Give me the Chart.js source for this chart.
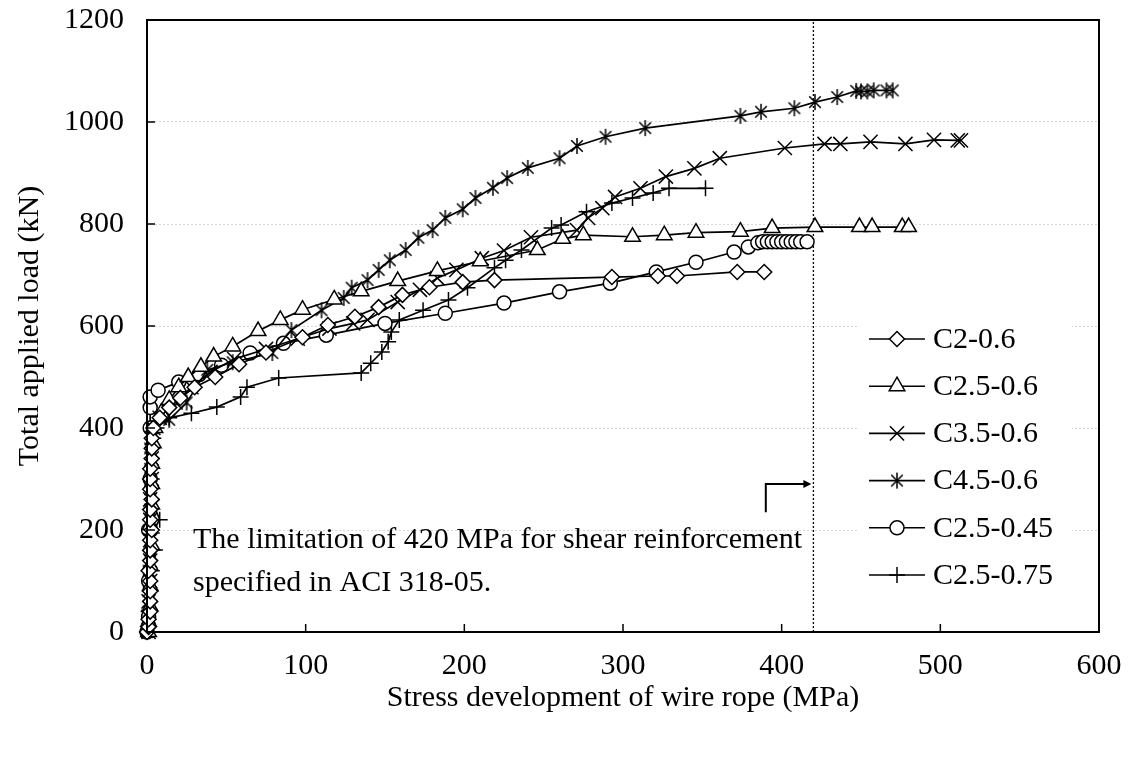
<!DOCTYPE html>
<html>
<head>
<meta charset="utf-8">
<script src="https://cdn.jsdelivr.net/npm/chart.js@4.4.0/dist/chart.umd.min.js"></script>
<style>
  html, body { margin: 0; padding: 0; background: #fff; }
  #wrap { width: 1132px; height: 760px; }
</style>
</head>
<body>
<div id="wrap"><canvas id="chart" width="1132" height="760"></canvas></div>
<script>
// series names, as in the legend
const seriesNames = ['C2-0.6', 'C2.5-0.6', 'C3.5-0.6', 'C4.5-0.6', 'C2.5-0.45', 'C2.5-0.75']

// stress of wire rope (MPa) / total applied load (kN)
const c2_06_x = [0,1,1,2,2,2,2,1,2,2,2,3,2,2,3,2,2,2,3,3,3,4,8,14,21,30,43,58,75,98,114,131,146,161,178,199,219,293,322,334,372,389]
const c2_06_y = [0,10,25,40,60,80,100,120,140,160,180,200,220,240,260,280,300,320,340,360,380,400,420,440,459,480,500,525,548,578,602,618,637,661,676,686,690,696,698,698,706,706]

const c25_06_x = [1,1,2,2,2,3,2,3,3,3,4,5,9,14,20,26,34,42,54,70,84,98,118,135,158,183,210,246,262,275,306,326,346,374,394,421,449,457,476,480]
const c25_06_y = [0,20,50,90,130,170,210,250,290,330,370,400,430,455,480,500,520,540,560,590,612,632,652,668,688,708,727,749,771,778,775,778,783,785,792,794,794,794,794,794]

const c35_06_x = [1,1,1,2,2,2,2,2,3,3,3,4,8,18,28,40,55,75,95,115,130,139,158,172,183,195,211,225,242,271,278,287,295,311,327,345,361,402,427,437,456,478,496,511,513]
const c35_06_y = [0,30,60,100,140,180,220,260,300,340,380,400,420,450,480,510,535,555,575,595,605,612,647,671,694,710,733,748,774,788,812,831,853,870,893,909,929,949,957,957,961,957,965,964,964]

const c45_06_x = [0,1,1,1,2,2,2,2,2,2,3,14,25,38,54,79,91,110,124,129,139,146,153,163,171,180,188,199,207,218,227,240,260,271,289,314,374,387,408,421,435,447,450,454,458,466,470]
const c45_06_y = [0,40,80,120,160,200,240,280,320,360,400,416,450,514,529,547,592,631,655,675,690,710,729,749,773,788,812,829,851,871,890,910,929,953,971,988,1012,1020,1027,1039,1049,1061,1060,1060,1062,1062,1062]

const c25_045_x = [0,1,1,1,2,2,2,2,7,20,33,47,65,86,113,150,188,225,260,292,321,346,370,379,385,388,391,394,397,400,403,406,409,412,416]
const c25_045_y = [0,30,100,200,300,400,440,461,474,490,505,523,547,566,582,605,625,645,667,684,706,725,745,755,763,765,765,765,765,765,765,765,765,765,765]

const c25_075_x = [0,1,2,3,5,3,8,3,3,3,4,6,14,28,44,59,63,83,135,141,148,152,154,159,174,190,202,219,226,236,255,261,277,293,306,319,329,352]
const c25_075_y = [0,40,80,120,161,194,220,260,300,340,380,400,420,429,441,461,480,498,508,527,549,569,588,612,631,651,675,714,729,749,792,798,824,841,851,861,870,870]

// ACI 318-05 limit
const limitStress = 420

const xTicks = [0, 100, 200, 300, 400, 500, 600]
const yTicks = [0, 200, 400, 600, 800, 1000, 1200]

const noteLines = ['The limitation of 420 MPa for shear reinforcement', 'specified in ACI 318-05.']

const FONT = '"Liberation Serif", "Times New Roman", serif'

function asterisk(r) {
    const c = document.createElement('canvas')
    const s = 2 * r + 4
    c.width = s
    c.height = s
    const g = c.getContext('2d')
    const m = s / 2
    const d = r * 0.72
    g.strokeStyle = '#000'
    g.lineWidth = 1.5
    g.beginPath()
    g.moveTo(m, m - r); g.lineTo(m, m + r)
    g.moveTo(m - d, m - d); g.lineTo(m + d, m + d)
    g.moveTo(m + d, m - d); g.lineTo(m - d, m + d)
    g.stroke()
    return c
}

const markers = [
    { style: 'rectRot', r: 7.5 },
    { style: 'triangle', r: 9 },
    { style: 'crossRot', r: 10 },
    { style: asterisk(8), r: 8 },
    { style: 'circle', r: 7 },
    { style: 'cross', r: 8 }
]

function toPoints(xs, ys) {
    return xs.map((x, i) => ({ x: x, y: ys[i] }))
}

const seriesData = [
    toPoints(c2_06_x, c2_06_y),
    toPoints(c25_06_x, c25_06_y),
    toPoints(c35_06_x, c35_06_y),
    toPoints(c45_06_x, c45_06_y),
    toPoints(c25_045_x, c25_045_y),
    toPoints(c25_075_x, c25_075_y)
]

const datasets = seriesNames.map((name, i) => ({
    label: name,
    data: seriesData[i],
    showLine: true,
    borderColor: '#000',
    borderWidth: 1.7,
    pointStyle: markers[i].style,
    pointRadius: markers[i].r,
    pointBackgroundColor: '#fff',
    pointBorderColor: '#000',
    pointBorderWidth: 1.5,
    clip: false,
    tension: 0
}))

datasets.push({
    label: 'limit',
    data: [{ x: limitStress, y: 0 }, { x: limitStress, y: 1200 }],
    showLine: true,
    borderColor: '#000',
    borderWidth: 1.3,
    borderDash: [2, 2],
    pointRadius: 0
})

const extras = {
    id: 'extras',
    afterDraw(chart) {
        const ctx = chart.ctx
        const a = chart.chartArea
        const xs = chart.scales.x
        const ys = chart.scales.y
        ctx.save()

        // inward tick marks
        ctx.strokeStyle = '#000'
        ctx.lineWidth = 1.5
        ctx.beginPath()
        yTicks.forEach(v => {
            const py = ys.getPixelForValue(v)
            ctx.moveTo(a.left, py); ctx.lineTo(a.left + 8, py)
        })
        xTicks.forEach(v => {
            const px = xs.getPixelForValue(v)
            ctx.moveTo(px, a.bottom); ctx.lineTo(px, a.bottom - 8)
        })
        ctx.stroke()

        // frame
        ctx.lineWidth = 2
        ctx.strokeRect(a.left, a.top, a.right - a.left, a.bottom - a.top)

        // note
        ctx.fillStyle = '#000'
        ctx.font = '30px ' + FONT
        ctx.textAlign = 'left'
        ctx.textBaseline = 'alphabetic'
        ctx.fillText(noteLines[0], 193, 548)
        ctx.fillText(noteLines[1], 193, 591)

        // arrow to the limit line
        const ax = xs.getPixelForValue(390)
        const tip = xs.getPixelForValue(limitStress) - 2
        const y0 = ys.getPixelForValue(235)
        const y1 = ys.getPixelForValue(290)
        ctx.lineWidth = 2
        ctx.beginPath()
        ctx.moveTo(ax, y0); ctx.lineTo(ax, y1); ctx.lineTo(tip - 6, y1)
        ctx.stroke()
        ctx.beginPath()
        ctx.moveTo(tip, y1); ctx.lineTo(tip - 8, y1 - 4); ctx.lineTo(tip - 8, y1 + 4)
        ctx.closePath()
        ctx.fill()

        // legend
        ctx.fillStyle = '#fff'
        ctx.fillRect(857, 315, 215, 285)
        ctx.font = '30px ' + FONT
        ctx.textBaseline = 'middle'
        seriesNames.forEach((name, i) => {
            const y = 339 + i * 47.2
            ctx.strokeStyle = '#000'
            ctx.lineWidth = 1.6
            ctx.beginPath()
            ctx.moveTo(869, y); ctx.lineTo(925, y)
            ctx.stroke()
            ctx.fillStyle = '#fff'
            ctx.lineWidth = 1.5
            Chart.helpers.drawPoint(ctx, { pointStyle: markers[i].style, radius: markers[i].r, borderWidth: 1.5, rotation: 0 }, 897, y)
            ctx.fillStyle = '#000'
            ctx.fillText(name, 933, y + 1)
        })
        ctx.restore()
    }
}

new Chart(document.getElementById('chart'), {
    type: 'scatter',
    data: { datasets: datasets },
    options: {
        responsive: false,
        animation: false,
        layout: { padding: { left: 0, top: 20, right: 33, bottom: 0 } },
        plugins: {
            legend: { display: false },
            tooltip: { enabled: false }
        },
        scales: {
            x: {
                type: 'linear',
                min: 0,
                max: 600,
                afterFit: s => { s.height = 128; s.paddingLeft = 0; s.paddingRight = 0 },
                afterBuildTicks: s => { s.ticks = xTicks.map(v => ({ value: v })) },
                grid: { display: false, drawTicks: false },
                border: { display: false },
                ticks: { color: '#000', padding: 16, font: { family: FONT, size: 30 }, callback: v => String(v) },
                title: {
                    display: true,
                    text: 'Stress development of wire rope (MPa)',
                    color: '#000',
                    font: { family: FONT, size: 30 },
                    padding: { top: 0, bottom: 44 }
                }
            },
            y: {
                type: 'linear',
                min: 0,
                max: 1200,
                afterFit: s => { s.width = 147; s.paddingTop = 0; s.paddingBottom = 0 },
                afterBuildTicks: s => { s.ticks = yTicks.map(v => ({ value: v })) },
                grid: {
                    drawTicks: false,
                    lineWidth: 1,
                    color: c => (c.tick && (c.tick.value === 0 || c.tick.value === 1200)) ? 'rgba(0,0,0,0)' : '#d6d6d6'
                },
                border: { display: false, dash: [2, 2] },
                ticks: { color: '#000', padding: 23, font: { family: FONT, size: 30 }, callback: v => String(v) },
                title: {
                    display: true,
                    text: 'Total applied load (kN)',
                    color: '#000',
                    font: { family: FONT, size: 30 },
                    padding: { top: 12, bottom: 0 }
                }
            }
        }
    },
    plugins: [extras]
})
</script>
</body>
</html>
